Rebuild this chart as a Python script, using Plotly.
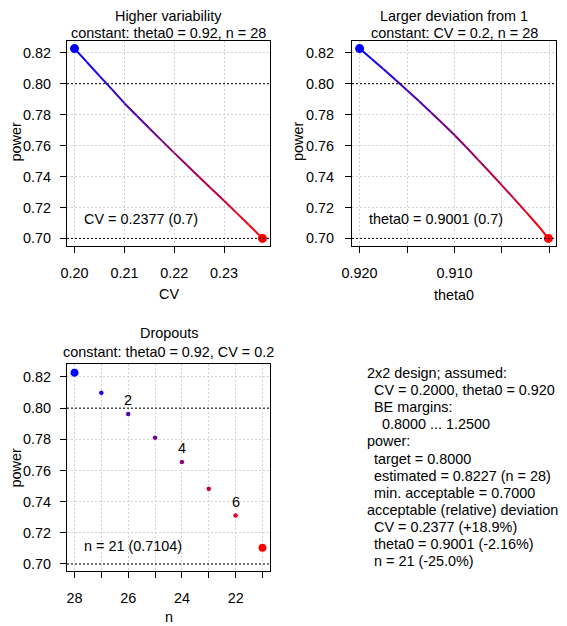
import plotly.graph_objects as go

# page body has an 8px margin, so the figure is drawn 8px in from the corner
OFF = 8
W, H = 567 - OFF, 626 - OFF
FONT = "Liberation Sans, Arial, sans-serif"
FS = 14.4
S = 5  # left column nudged right so its "power" label fits on the page

# Panel 1: power vs CV (theta0 = 0.92, n = 28)
cv_vals = [0.2000, 0.2025, 0.2050, 0.2075, 0.2100, 0.2125, 0.2150, 0.2175,
           0.2200, 0.2225, 0.2250, 0.2275, 0.2300, 0.2325, 0.2350, 0.2377]
cv_power = [0.8227, 0.8139, 0.8051, 0.7963, 0.7874, 0.7793, 0.7712, 0.7632,
            0.7553, 0.7475, 0.7397, 0.7320, 0.7243, 0.7165, 0.7087, 0.7000]

# Panel 2: power vs theta0 (CV = 0.2, n = 28)
theta_vals = [0.92000, 0.91875, 0.91750, 0.91625, 0.91500, 0.91375, 0.91250,
              0.91125, 0.91000, 0.90875, 0.90750, 0.90625, 0.90500, 0.90375,
              0.90250, 0.90125, 0.90010]
theta_power = [0.8227, 0.8162, 0.8095, 0.8027, 0.7958, 0.7888, 0.7816,
               0.7743, 0.7668, 0.7589, 0.7508, 0.7426, 0.7343, 0.7259,
               0.7173, 0.7087, 0.7000]

# Panel 3: power vs n (dropouts)
n_vals = [28, 27, 26, 25, 24, 23, 22, 21]
n_power = [0.8227, 0.8098, 0.7962, 0.7810, 0.7654, 0.7482, 0.7311, 0.7104]
dropout_labels = {26: "2", 24: "4", 22: "6"}

y_ticks = [0.70, 0.72, 0.74, 0.76, 0.78, 0.80, 0.82]
cv_ticks = [0.20, 0.21, 0.22, 0.23]
theta_ticks = [0.920, 0.915, 0.910, 0.905, 0.900]
theta_ticktext = ["0.920", "", "0.910", "", "0.900"]
n_ticks = [28, 27, 26, 25, 24, 23, 22, 21]
n_ticktext = ["28", "", "26", "", "24", "", "22", ""]

info_lines = [
    (0, "2x2 design; assumed:"),
    (1, "CV = 0.2000, theta0 = 0.920"),
    (1, "BE margins:"),
    (2, "0.8000 ... 1.2500"),
    (0, "power:"),
    (1, "target = 0.8000"),
    (1, "estimated = 0.8227 (n = 28)"),
    (1, "min. acceptable = 0.7000"),
    (0, "acceptable (relative) deviation"),
    (1, "CV = 0.2377 (+18.9%)"),
    (1, "theta0 = 0.9001 (-2.16%)"),
    (1, "n = 21 (-25.0%)"),
]


def ramp(t):
    # blue -> red
    return "rgb(%d,0,%d)" % (round(255 * t), round(255 * (1 - t)))


def px_x(p):
    return (p - OFF) / W


def px_y(p):
    return 1 - (p - OFF) / H


fig = go.Figure()


def add_curve(xs, ys, xa, ya):
    n = len(xs)
    for i in range(n - 1):
        t = (i + 0.5) / (n - 1)
        fig.add_trace(go.Scatter(x=xs[i:i + 2], y=ys[i:i + 2], mode="lines",
                                 line=dict(color=ramp(t), width=2),
                                 xaxis=xa, yaxis=ya, hoverinfo="skip"))
    fig.add_trace(go.Scatter(x=[xs[0], xs[-1]], y=[ys[0], ys[-1]], mode="markers",
                             marker=dict(color=[ramp(0), ramp(1)], size=9, opacity=1),
                             xaxis=xa, yaxis=ya))


add_curve(cv_vals, cv_power, "x", "y")
add_curve(theta_vals, theta_power, "x2", "y2")

m = len(n_vals)
sizes = [9 if i in (0, m - 1) else 5.5 for i in range(m)]
fig.add_trace(go.Scatter(x=n_vals, y=n_power, mode="markers",
                         marker=dict(color=[ramp(i / (m - 1)) for i in range(m)],
                                     size=sizes, opacity=1),
                         xaxis="x3", yaxis="y3"))

axis_common = dict(showline=True, linecolor="black", linewidth=1, mirror=True,
                   ticks="outside", ticklen=6, tickcolor="black",
                   showgrid=True, gridcolor="#D3D3D3", griddash="2px,2px",
                   gridwidth=1, zeroline=False, automargin=False,
                   tickfont=dict(family=FONT, size=FS, color="black"))

top_dom = [px_y(246), px_y(41)]
bot_dom = [px_y(571), px_y(364)]
left_dom = [px_x(62 + S), px_x(265 + S)]
L = 163.5 + S  # centre of the left column panels

fig.update_layout(
    width=W, height=H, margin=dict(l=0, r=0, t=0, b=0, pad=0),
    paper_bgcolor="white", plot_bgcolor="white", showlegend=False,
    font=dict(family=FONT, size=FS, color="black"),
    xaxis=dict(domain=left_dom, range=[0.19849, 0.23921],
               tickvals=cv_ticks, ticktext=["0.20", "0.21", "0.22", "0.23"],
               ticklabelstandoff=8, anchor="y", **axis_common),
    yaxis=dict(domain=top_dom, range=[0.6951, 0.8276], tickvals=y_ticks,
               tickformat=".2f", ticklabelstandoff=6, anchor="x", **axis_common),
    xaxis2=dict(domain=[px_x(352), px_x(556)], range=[0.9208, 0.8993],
                tickvals=theta_ticks, ticktext=theta_ticktext,
                ticklabelstandoff=8, anchor="y2", **axis_common),
    yaxis2=dict(domain=top_dom, range=[0.6951, 0.8276], tickvals=y_ticks,
                tickformat=".2f", ticklabelstandoff=8, anchor="x2", **axis_common),
    xaxis3=dict(domain=left_dom, range=[28.28, 20.72],
                tickvals=n_ticks, ticktext=n_ticktext,
                ticklabelstandoff=8, anchor="y3", **axis_common),
    yaxis3=dict(domain=bot_dom, range=[0.6955, 0.8283], tickvals=y_ticks,
                tickformat=".2f", ticklabelstandoff=6, anchor="x3", **axis_common),
)

# target and minimum acceptable power
for xa, ya in [("x", "y"), ("x2", "y2"), ("x3", "y3")]:
    for level in (0.80, 0.70):
        fig.add_shape(type="line", xref=xa + " domain", yref=ya, x0=0, x1=1,
                      y0=level, y1=level,
                      line=dict(color="black", width=1, dash="2px,2px"))


def note(x, y, text, xanchor="center", textangle=0):
    fig.add_annotation(x=px_x(x), y=px_y(y), xref="paper", yref="paper",
                       text=text, showarrow=False, xanchor=xanchor,
                       yanchor="middle", textangle=textangle, borderpad=0,
                       font=dict(family=FONT, size=FS, color="black"))


# titles
note(L, 16.3, "Higher variability")
note(L, 32.6, "constant: theta0 = 0.92, n = 28")
note(454, 16.3, "Larger deviation from 1")
note(454, 32.6, "constant: CV = 0.2, n = 28")
note(L, 333, "Dropouts")
note(L, 352, "constant: theta0 = 0.92, CV = 0.2")

# axis titles
note(L, 294, "CV")
note(454, 295, "theta0")
note(L, 617, "n")
note(16.4, 142, "power", textangle=-90)
note(298, 142, "power", textangle=-90)
note(16.4, 468, "power", textangle=-90)

# in-panel results
note(78 + S, 219, "CV = 0.2377 (0.7)", xanchor="left")
note(368, 219, "theta0 = 0.9001 (0.7)", xanchor="left")
note(78 + S, 546, "n = 21 (0.7104)", xanchor="left")

# dropout counts above points
for nv, pw in zip(n_vals, n_power):
    if nv in dropout_labels:
        fig.add_annotation(x=nv, y=pw, xref="x3", yref="y3",
                           text=dropout_labels[nv], showarrow=False,
                           yshift=14, font=dict(family=FONT, size=FS, color="black"))

# summary text
indent = [0, 7, 15]
for i, (lvl, txt) in enumerate(info_lines):
    note(366 + indent[lvl], 373 + i * 17.1, txt, xanchor="left")

fig.write_html("out.html")
